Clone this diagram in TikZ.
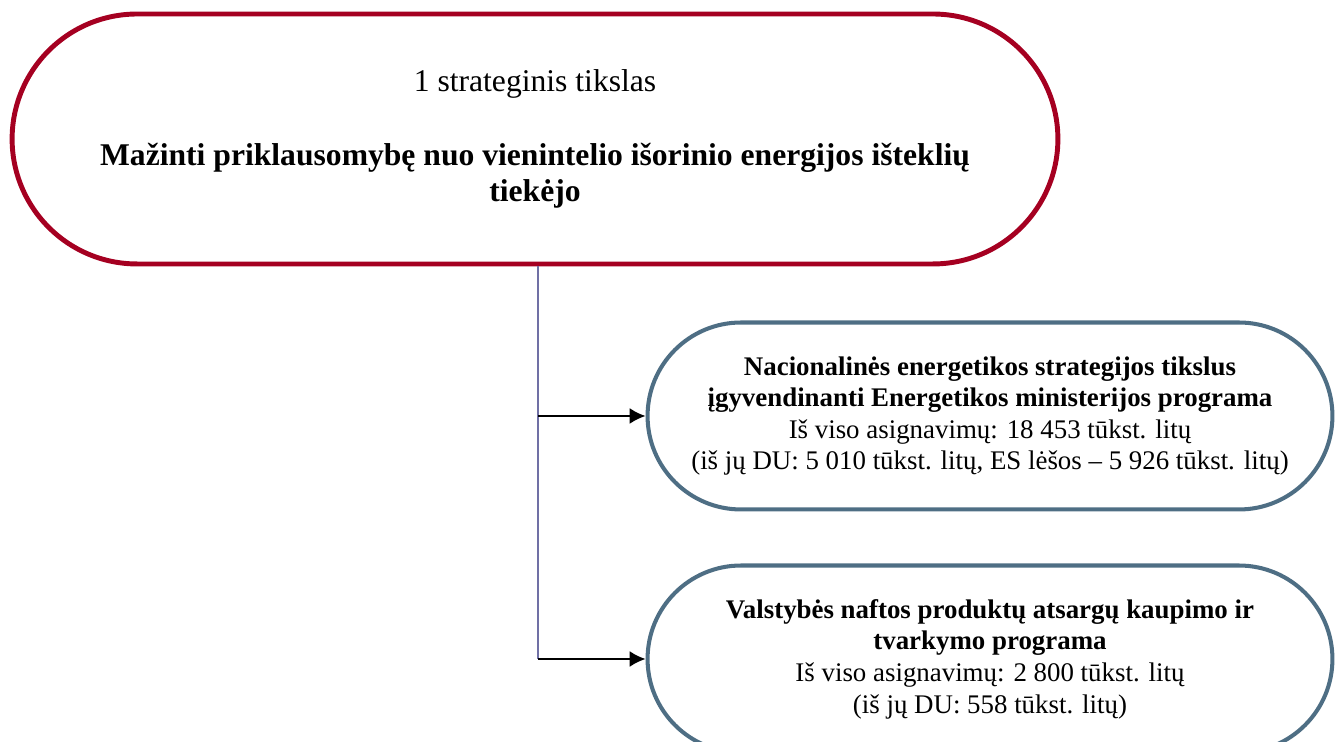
\documentclass[tikz,border=0pt]{standalone}
\usepackage{fontspec}
\setmainfont{Liberation Serif}
\usepackage{xcolor}
\usetikzlibrary{calc, arrows.meta}
\definecolor{goalred}{RGB}{165,0,33}
\definecolor{progblue}{RGB}{78,110,132}
\definecolor{linkblue}{RGB}{112,112,165}
\def\trunk{538}
\tikzset{goal/.style={draw=goalred, line width=2.8pt, rounded corners=2.5cm,
  minimum width=20.92cm, minimum height=5cm, align=center,
  font=\fontsize{18}{20.5}\selectfont}}
\tikzset{prog/.style={draw=progblue, line width=2.3pt, rounded corners=1.87cm,
  minimum width=13.7cm, minimum height=3.74cm, align=center,
  font=\fontsize{15.3}{18}\selectfont}}
\tikzset{link/.style={linkblue, line width=0.8pt}}
\tikzset{feed/.style={line width=1.1pt, black, -{Latex[length=9pt, width=9pt]}}}

\begin{document}
\begin{tikzpicture}[x=0.02cm, y=0.02cm]
  \useasboundingbox (0,0) rectangle (1335,742);
  \clip (0,0) rectangle (1335,742);

  % Strateginis tikslas
  \node[goal] (goal) at (535,603) {1 strateginis tikslas\\[22pt]
    \textbf{Mažinti priklausomybę nuo vienintelio išorinio energijos išteklių}\\
    \textbf{tiekėjo}};

  % Programos
  \node[prog] (progA) at (990,326) {\textbf{Nacionalinės energetikos strategijos tikslus}\\
    \textbf{įgyvendinanti Energetikos ministerijos programa}\\
    Iš viso asignavimų: 18 453 tūkst. litų\\
    (iš jų DU: 5 010 tūkst. litų, ES lėšos -- 5 926 tūkst. litų)};
  \node[prog] (progB) at (990,83) {\textbf{Valstybės naftos produktų atsargų kaupimo ir}\\
    \textbf{tvarkymo programa}\\
    Iš viso asignavimų: 2 800 tūkst. litų\\
    (iš jų DU: 558 tūkst. litų)};

  % Jungtys
  \coordinate (top) at (\trunk,0 |- goal.south);
  \coordinate (jA) at (\trunk,0 |- progA.west);
  \coordinate (jB) at (\trunk,0 |- progB.west);
  \draw[link] (top) -- (jB);
  \draw[feed] (jA) -- (progA.west);
  \draw[feed] (jB) -- (progB.west);
\end{tikzpicture}
\end{document}
